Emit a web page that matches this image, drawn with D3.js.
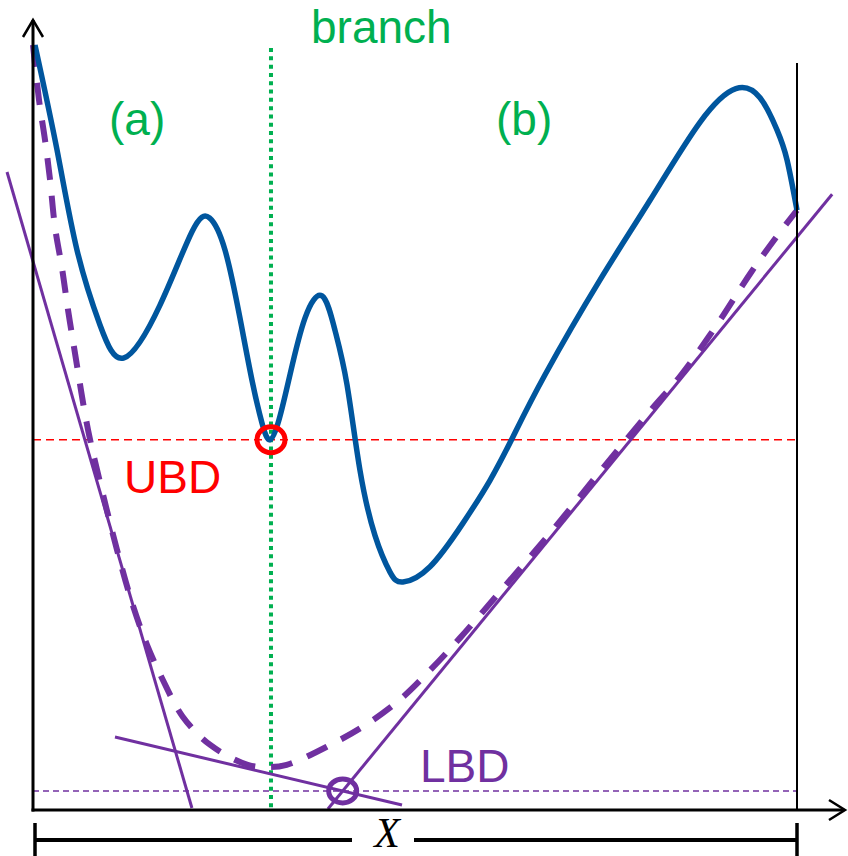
<!DOCTYPE html>
<html>
<head>
<meta charset="utf-8">
<script src="https://cdn.jsdelivr.net/npm/d3@7"></script>
<style>
  html, body { margin: 0; padding: 0; background: #fff; }
  svg { display: block; }
  text { font-family: "Liberation Sans", Arial, sans-serif; }
</style>
</head>
<body>
<svg id="chart" width="848" height="856"></svg>
<script>
// Nonconvex objective f(x) over the domain X (x: 0..100, y: 0..100)
const objectiveX = [0.26, 3.14, 5.76, 8.77, 11.91, 16.62, 20.81, 23.1, 25.13, 27.09, 28.66, 29.97, 31.02, 32.20, 33.64, 35.60, 37.83, 39.53, 41.10, 42.80, 44.76, 46.73, 48.43, 51.96, 56.28, 59.82, 62.83, 67.02, 74.22, 80.76, 87.30, 92.0, 95.16, 97.38, 98.69, 100];
const objectiveY = [100, 86.3, 73.2, 63.4, 59.1, 66.0, 75.6, 77.4, 73.2, 64.3, 56.2, 50.6, 48.4, 51.0, 56.9, 64.3, 67.2, 62.7, 55.6, 44.4, 35.9, 31.1, 29.8, 31.8, 37.5, 43.1, 48.8, 56.9, 69.3, 79.7, 89.9, 94.3, 93.1, 88.9, 85.0, 78.4];

// Convex underestimator of f on X
const relaxX = [0, 0.79, 1.57, 2.23, 2.88, 3.80, 4.58, 5.37, 7.20, 9.03, 11.0, 12.96, 14.92, 17.0, 19.6, 23.2, 28.1, 30.8, 33.2, 38.9, 43.5, 48.0, 52.0, 55.9, 61.1, 67.7, 74.2, 80.8, 84.7, 89.3, 94.0, 97.3, 100];
const relaxY = [100, 92.8, 87.6, 82.4, 76.2, 70.8, 65.4, 60.5, 49.7, 41.8, 34.0, 27.1, 21.6, 17.0, 12.2, 8.5, 5.9, 5.6, 5.9, 8.5, 11.1, 14.4, 18.3, 22.5, 28.5, 36.2, 44.2, 52.2, 56.7, 63.1, 70.3, 74.9, 78.4];

// Linearizations (tangent cuts) of the relaxation: [x0, y0, x1, y1]
const cutSteep   = [-3.40, 83.4, 20.8, 0.26];
const cutShallow = [10.73, 9.54, 48.3, 0.65];
const cutRight   = [38.6, 0.13, 104.6, 80.5];

// Bounds and branching point
const upperBound = 48.4;     // UBD, best feasible value found
const branchX = 31.15;       // branching location splitting X into (a) and (b)
const labels = { branch: "branch", left: "(a)", right: "(b)", ubd: "UBD", lbd: "LBD", domain: "X" };

const COLORS = { blue: "#00569e", purple: "#7030a0", green: "#00b050", red: "#ff0000", black: "#000" };

const svg = d3.select("#chart");
const x = d3.scaleLinear().domain([0, 100]).range([33, 797]);
const y = d3.scaleLinear().domain([0, 100]).range([810, 45]);

// Lower bound: where the two cuts meet
function intersect(a, b) {
  const sa = (a[3] - a[1]) / (a[2] - a[0]);
  const sb = (b[3] - b[1]) / (b[2] - b[0]);
  const xi = (b[1] - a[1] + sa * a[0] - sb * b[0]) / (sa - sb);
  return [xi, a[1] + sa * (xi - a[0])];
}
const lbdPoint = intersect(cutShallow, cutRight);
const lowerBound = lbdPoint[1];

const xLeft = x(0), xRight = x(100), yBase = y(0);

// Horizontal bound lines
svg.append("line")
  .attr("x1", xLeft).attr("x2", xRight)
  .attr("y1", y(upperBound)).attr("y2", y(upperBound))
  .attr("stroke", COLORS.red).attr("stroke-width", 1.7)
  .attr("stroke-dasharray", "8,5");
svg.append("line")
  .attr("x1", xLeft).attr("x2", xRight)
  .attr("y1", y(lowerBound)).attr("y2", y(lowerBound))
  .attr("stroke", COLORS.purple).attr("stroke-width", 1.6)
  .attr("stroke-dasharray", "6,4");

// Branching line
svg.append("line")
  .attr("x1", x(branchX)).attr("x2", x(branchX))
  .attr("y1", y(99.6)).attr("y2", yBase)
  .attr("stroke", COLORS.green).attr("stroke-width", 4)
  .attr("stroke-dasharray", "4,4.3");

// Tangent cuts
[cutSteep, cutShallow, cutRight].forEach(c => {
  svg.append("line")
    .attr("x1", x(c[0])).attr("y1", y(c[1]))
    .attr("x2", x(c[2])).attr("y2", y(c[3]))
    .attr("stroke", COLORS.purple).attr("stroke-width", 3);
});

// Convex relaxation (dashed)
const relaxLine = d3.line()
  .x(d => x(d[0])).y(d => y(d[1]))
  .curve(d3.curveCatmullRom.alpha(0.5));
svg.append("path")
  .attr("d", relaxLine(d3.zip(relaxX, relaxY)))
  .attr("fill", "none").attr("stroke", COLORS.purple)
  .attr("stroke-width", 6).attr("stroke-dasharray", "22,16");

// Objective function
const objLine = d3.line()
  .x(d => x(d[0])).y(d => y(d[1]))
  .curve(d3.curveNatural);
svg.append("path")
  .attr("d", objLine(d3.zip(objectiveX, objectiveY)))
  .attr("fill", "none").attr("stroke", COLORS.blue)
  .attr("stroke-width", 5.5).attr("stroke-linejoin", "round");

// Bound markers
svg.append("ellipse")
  .attr("cx", x(branchX)).attr("cy", y(upperBound))
  .attr("rx", 14).attr("ry", 13)
  .attr("fill", "none").attr("stroke", COLORS.red).attr("stroke-width", 5);
svg.append("ellipse")
  .attr("cx", x(lbdPoint[0])).attr("cy", y(lowerBound))
  .attr("rx", 14).attr("ry", 12)
  .attr("fill", "none").attr("stroke", COLORS.purple).attr("stroke-width", 5);

// Axes and frame
svg.append("line")
  .attr("x1", xRight).attr("x2", xRight).attr("y1", 63).attr("y2", yBase)
  .attr("stroke", COLORS.black).attr("stroke-width", 2);
svg.append("line")
  .attr("x1", xLeft).attr("x2", xLeft).attr("y1", 20).attr("y2", yBase + 1.5)
  .attr("stroke", COLORS.black).attr("stroke-width", 3);
svg.append("line")
  .attr("x1", xLeft - 1.5).attr("x2", 844).attr("y1", yBase).attr("y2", yBase)
  .attr("stroke", COLORS.black).attr("stroke-width", 3);
svg.append("path")
  .attr("d", `M${xLeft - 10},37 L${xLeft},20 L${xLeft + 10},37`)
  .attr("fill", "none").attr("stroke", COLORS.black).attr("stroke-width", 2.5);
svg.append("path")
  .attr("d", `M829,${yBase - 10} L845,${yBase} L829,${yBase + 10}`)
  .attr("fill", "none").attr("stroke", COLORS.black).attr("stroke-width", 2.5);

// Domain bracket
const yBr = 840;
svg.append("line").attr("x1", 35).attr("x2", 35).attr("y1", 823).attr("y2", 858)
  .attr("stroke", COLORS.black).attr("stroke-width", 3.5);
svg.append("line").attr("x1", xRight).attr("x2", xRight).attr("y1", 823).attr("y2", 858)
  .attr("stroke", COLORS.black).attr("stroke-width", 3.5);
svg.append("line").attr("x1", 35).attr("x2", 352).attr("y1", yBr).attr("y2", yBr)
  .attr("stroke", COLORS.black).attr("stroke-width", 4);
svg.append("line").attr("x1", 414).attr("x2", xRight).attr("y1", yBr).attr("y2", yBr)
  .attr("stroke", COLORS.black).attr("stroke-width", 4);
svg.append("text")
  .attr("x", 387).attr("y", 847).attr("text-anchor", "middle")
  .style("font-family", "'Liberation Serif', 'Times New Roman', serif")
  .style("font-style", "italic").style("font-size", "42px")
  .text(labels.domain);

// Labels
function label(txt, px, py, color) {
  svg.append("text").attr("x", px).attr("y", py)
    .attr("fill", color).style("font-size", "46px").text(txt);
}
label(labels.branch, 311, 43, COLORS.green);
label(labels.left, 109, 135, COLORS.green);
label(labels.right, 496, 135, COLORS.green);
label(labels.ubd, 124, 493, COLORS.red);
label(labels.lbd, 420, 782, COLORS.purple);
</script>
</body>
</html>
